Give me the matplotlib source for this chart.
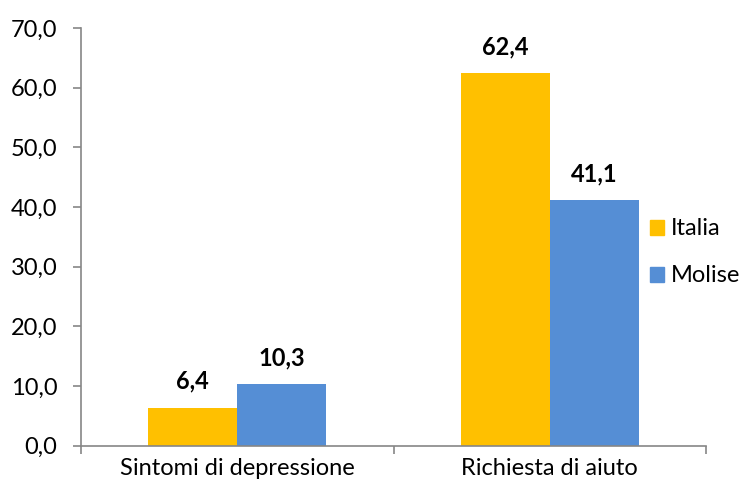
import numpy as np
import matplotlib.pyplot as plt
from matplotlib.patches import Patch

categorie = ['Sintomi di depressione', 'Richiesta di aiuto']
italia = [6.4, 62.4]
molise = [10.3, 41.1]
serie = ['Italia', 'Molise']
colori = ['#FFC000', '#558ED5']

plt.rcParams['font.family'] = ['Lato', 'DejaVu Sans']
fs = 17

fig = plt.figure(figsize=(7.44, 4.91), dpi=100)
ax = fig.add_axes([0.109, 0.092, 0.840, 0.851])

x = np.arange(len(categorie))
w = 0.285
b1 = ax.bar(x - w / 2, italia, w, color=colori[0])
b2 = ax.bar(x + w / 2, molise, w, color=colori[1])

def fmt(v):
    return f'{v:.1f}'.replace('.', ',')

for bars, vals in ((b1, italia), (b2, molise)):
    for b, v in zip(bars, vals):
        ax.text(b.get_x() + b.get_width() / 2, v + 3.2, fmt(v),
                ha='center', va='baseline', fontsize=fs, fontweight='bold')

ax.set_xlim(-0.5, 1.5)
ax.set_ylim(0, 70)
ax.set_yticks(np.arange(0, 71, 10))
ax.set_yticklabels([fmt(v) for v in np.arange(0, 71, 10)], fontsize=fs)

# category labels centered, tick marks at group boundaries
ax.set_xticks([-0.5, 0.5, 1.5])
ax.set_xticklabels([])
ax.set_xticks(x, minor=True)
ax.set_xticklabels(categorie, minor=True, fontsize=fs)
ax.tick_params(axis='x', which='minor', length=0, pad=9)
ax.tick_params(axis='x', which='major', length=6, color='#868686', width=1.2)
ax.tick_params(axis='y', length=6, color='#868686', width=1.2, pad=11)

for s in ('top', 'right'):
    ax.spines[s].set_visible(False)
for s in ('left', 'bottom'):
    ax.spines[s].set_color('#868686')
    ax.spines[s].set_linewidth(1.2)

handles = [Patch(color=c, label=l) for c, l in zip(colori, serie)]
fig.legend(handles=handles, loc='center left', bbox_to_anchor=(0.845, 0.486),
           frameon=False, fontsize=fs, handlelength=0.6, handleheight=0.6,
           handletextpad=0.3, labelspacing=1.1)

fig.savefig('out.png', dpi=100)
